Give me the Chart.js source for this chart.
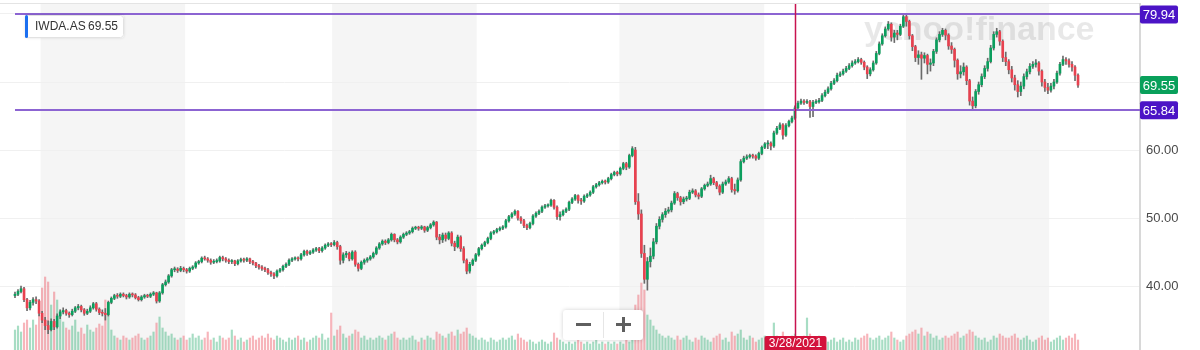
<!DOCTYPE html>
<html>
<head>
<meta charset="utf-8">
<script src="https://cdn.jsdelivr.net/npm/chart.js@4.4.0/dist/chart.umd.min.js"></script>
<style>
  html, body { margin: 0; padding: 0; background: #fff; }
  #wrap { width: 1200px; height: 350px; }
</style>
</head>
<body>
<div id="wrap"><canvas id="graph" width="1200" height="350"></canvas></div>
<script>
// weekly candles of IWDA.AS (one entry per week)
var symbol = "IWDA.AS";
var lastPrice = 69.55;
var highPrice = 79.94;
var lowPrice = 65.84;
var crossWeek = 259;
var crossLabel = "3/28/2021";
// week index where each calendar year starts (2016 ... 2023), shaded every other year
var yearStarts = [8.5, 56.5, 105.3, 153.3, 200.7, 248.8, 295.9, 343.4];

var opens = [
  38.6, 38.8, 39.2, 39.6, 38.0, 36.8, 37.6, 38.0, 37.8, 36.0,
  35.0, 34.2, 33.6, 34.8, 34.0, 35.6, 36.2, 36.4, 36.0, 35.8,
  36.3, 36.8, 37.0, 36.5, 36.0, 36.3, 36.8, 37.4, 36.6, 36.1,
  36.0, 35.8, 37.6, 38.2, 38.6, 38.5, 38.8, 38.6, 38.4, 38.8,
  38.7, 38.3, 38.0, 38.4, 38.6, 38.5, 38.8, 39.0, 37.8, 39.0,
  40.2, 40.6, 41.5, 42.4, 42.5, 42.3, 42.6, 42.4, 42.2, 42.6,
  42.8, 43.4, 43.6, 44.1, 44.0, 43.8, 43.5, 43.6, 43.7, 44.2,
  44.0, 43.8, 43.6, 43.7, 43.3, 43.7, 43.9, 43.8, 44.0, 43.6,
  43.4, 43.0, 42.8, 42.6, 42.4, 42.0, 41.8, 41.5, 42.2, 42.4,
  42.9, 43.2, 43.8, 44.0, 44.1, 44.0, 44.6, 45.1, 44.8, 45.0,
  45.3, 45.5, 45.2, 45.6, 46.0, 46.2, 46.1, 46.4, 45.8, 43.8,
  44.6, 44.8, 44.0, 45.0, 43.2, 42.6, 43.5, 43.8, 44.0, 44.3,
  44.8, 45.6, 46.2, 46.6, 46.4, 46.8, 47.6, 46.8, 46.5, 47.2,
  47.6, 47.8, 48.0, 48.5, 48.6, 48.5, 48.7, 48.2, 48.6, 49.0,
  49.4, 47.2, 46.8, 47.5, 47.0, 47.8, 46.3, 45.8, 47.2, 45.5,
  43.8, 42.2, 43.2, 43.8, 44.6, 45.5, 46.0, 46.4, 47.0, 47.8,
  48.0, 48.3, 48.5, 48.7, 49.6, 50.2, 50.6, 51.0, 50.0, 49.6,
  48.9, 48.6, 49.2, 50.3, 50.7, 51.0, 51.6, 51.8, 51.9, 52.6,
  51.6, 50.2, 50.5, 51.0, 51.3, 52.3, 52.8, 53.3, 52.6, 52.5,
  53.2, 53.4, 53.8, 54.6, 54.9, 55.2, 55.4, 55.3, 55.8, 56.4,
  56.7, 56.5, 57.3, 58.0, 57.5, 59.2, 60.0, 52.4, 50.6, 44.8,
  41.0, 43.6, 44.4, 46.5, 48.8, 49.8, 50.5, 51.0, 51.2, 52.2,
  53.6, 53.0, 52.4, 52.8, 52.9, 53.8, 54.0, 53.4, 53.2, 54.3,
  54.8, 55.0, 55.8, 55.2, 54.7, 53.8, 55.0, 55.3, 55.8, 54.2,
  54.0, 55.6, 58.3, 58.8, 59.0, 59.2, 59.1, 58.8, 59.5, 60.4,
  60.9, 61.0, 60.6, 62.5, 63.2, 63.7, 62.2, 63.6, 64.2, 64.7,
  66.2, 66.9, 67.2, 67.0, 67.1, 66.4, 67.0, 67.1, 67.3, 68.0,
  68.5, 69.0, 69.8, 70.2, 71.0, 71.2, 71.6, 72.0, 72.4, 72.8,
  73.0, 73.3, 72.9, 72.2, 71.2, 71.8, 72.8, 74.2, 75.6, 76.8,
  77.8, 78.5, 76.6, 77.2, 77.0, 78.2, 79.6, 78.9, 76.8, 75.2,
  73.6, 74.0, 73.5, 73.9, 72.6, 72.8, 74.5, 76.2, 77.0, 77.6,
  76.9, 75.3, 74.8, 73.2, 71.2, 71.5, 72.2, 70.2, 67.2, 66.5,
  68.6, 69.6, 70.8, 72.0, 73.0, 75.0, 77.0, 77.4, 76.0, 73.6,
  73.0, 71.8, 70.6, 69.6, 68.6, 69.4, 70.8, 71.5, 72.3, 72.6,
  72.8, 71.6, 70.0, 69.2, 68.8, 69.4, 70.0, 71.3, 72.6, 73.3,
  73.1, 72.6, 72.2, 71.0
];
var closes = [
  38.8, 39.2, 39.6, 38.0, 36.8, 37.6, 38.0, 37.8, 36.0, 35.0,
  34.2, 33.6, 34.8, 34.0, 35.6, 36.2, 36.4, 36.0, 35.8, 36.3,
  36.8, 37.0, 36.5, 36.0, 36.3, 36.8, 37.4, 36.6, 36.1, 36.0,
  35.8, 37.6, 38.2, 38.6, 38.5, 38.8, 38.6, 38.4, 38.8, 38.7,
  38.3, 38.0, 38.4, 38.6, 38.5, 38.8, 39.0, 37.8, 39.0, 40.2,
  40.6, 41.5, 42.4, 42.5, 42.3, 42.6, 42.4, 42.2, 42.6, 42.8,
  43.4, 43.6, 44.1, 44.0, 43.8, 43.5, 43.6, 43.7, 44.2, 44.0,
  43.8, 43.6, 43.7, 43.3, 43.7, 43.9, 43.8, 44.0, 43.6, 43.4,
  43.0, 42.8, 42.6, 42.4, 42.0, 41.8, 41.5, 42.2, 42.4, 42.9,
  43.2, 43.8, 44.0, 44.1, 44.0, 44.6, 45.1, 44.8, 45.0, 45.3,
  45.5, 45.2, 45.6, 46.0, 46.2, 46.1, 46.4, 45.8, 43.8, 44.6,
  44.8, 44.0, 45.0, 43.2, 42.6, 43.5, 43.8, 44.0, 44.3, 44.8,
  45.6, 46.2, 46.6, 46.4, 46.8, 47.6, 46.8, 46.5, 47.2, 47.6,
  47.8, 48.0, 48.5, 48.6, 48.5, 48.7, 48.2, 48.6, 49.0, 49.4,
  47.2, 46.8, 47.5, 47.0, 47.8, 46.3, 45.8, 47.2, 45.5, 43.8,
  42.2, 43.2, 43.8, 44.6, 45.5, 46.0, 46.4, 47.0, 47.8, 48.0,
  48.3, 48.5, 48.7, 49.6, 50.2, 50.6, 51.0, 50.0, 49.6, 48.9,
  48.6, 49.2, 50.3, 50.7, 51.0, 51.6, 51.8, 51.9, 52.6, 51.6,
  50.2, 50.5, 51.0, 51.3, 52.3, 52.8, 53.3, 52.6, 52.5, 53.2,
  53.4, 53.8, 54.6, 54.9, 55.2, 55.4, 55.3, 55.8, 56.4, 56.7,
  56.5, 57.3, 58.0, 57.5, 59.2, 60.2, 52.4, 50.6, 44.8, 41.0,
  43.6, 44.4, 46.5, 48.8, 49.8, 50.5, 51.0, 51.2, 52.2, 53.6,
  53.0, 52.4, 52.8, 52.9, 53.8, 54.0, 53.4, 53.2, 54.3, 54.8,
  55.0, 55.8, 55.2, 54.7, 53.8, 55.0, 55.3, 55.8, 54.2, 54.0,
  55.6, 58.3, 58.8, 59.0, 59.2, 59.1, 58.8, 59.5, 60.4, 60.9,
  61.0, 60.6, 62.5, 63.2, 63.7, 62.2, 63.6, 64.2, 64.7, 66.2,
  66.9, 67.2, 67.0, 67.1, 66.4, 67.0, 67.1, 67.3, 68.0, 68.5,
  69.0, 69.8, 70.2, 71.0, 71.2, 71.6, 72.0, 72.4, 72.8, 73.0,
  73.3, 72.9, 72.2, 71.2, 71.8, 72.8, 74.2, 75.6, 76.8, 77.8,
  78.5, 76.6, 77.2, 77.0, 78.2, 79.6, 78.9, 76.8, 75.2, 73.6,
  74.0, 73.5, 73.9, 72.6, 72.8, 74.5, 76.2, 77.0, 77.6, 76.9,
  75.3, 74.8, 73.2, 71.2, 71.5, 72.2, 70.2, 67.2, 66.5, 68.6,
  69.6, 70.8, 72.0, 73.0, 75.0, 77.0, 77.4, 76.0, 73.6, 73.0,
  71.8, 70.6, 69.6, 68.6, 69.4, 70.8, 71.5, 72.3, 72.6, 72.8,
  71.6, 70.0, 69.2, 68.8, 69.4, 70.0, 71.3, 72.6, 73.3, 73.1,
  72.6, 72.2, 71.0, 69.55
];
var highs = [
  39.1, 39.5, 40.0, 39.8, 38.2, 37.9, 38.3, 38.4, 38.0, 36.3,
  35.4, 34.9, 35.2, 35.1, 35.9, 36.5, 36.8, 36.6, 36.2, 36.6,
  37.0, 37.3, 37.2, 36.7, 36.6, 37.1, 37.6, 37.6, 36.8, 36.5,
  36.7, 37.8, 38.4, 38.8, 38.9, 39.0, 39.0, 38.8, 39.0, 39.0,
  38.9, 38.5, 38.6, 38.8, 38.8, 39.0, 39.2, 39.1, 39.2, 40.4,
  40.9, 41.7, 42.6, 42.8, 42.7, 42.9, 42.8, 42.6, 42.8, 43.0,
  43.6, 43.8, 44.3, 44.4, 44.2, 44.0, 43.9, 44.0, 44.4, 44.4,
  44.2, 44.0, 43.9, 43.8, 43.9, 44.1, 44.1, 44.2, 44.1, 43.8,
  43.5, 43.2, 43.0, 42.8, 42.6, 42.2, 42.0, 42.4, 42.6, 43.1,
  43.4, 44.0, 44.2, 44.3, 44.3, 44.8, 45.3, 45.3, 45.2, 45.5,
  45.7, 45.7, 45.8, 46.2, 46.4, 46.4, 46.7, 46.6, 46.0, 44.9,
  45.1, 45.0, 45.2, 45.2, 43.4, 43.7, 44.0, 44.2, 44.5, 45.0,
  45.8, 46.4, 46.8, 46.8, 47.0, 47.8, 47.7, 47.0, 47.4, 47.8,
  48.0, 48.2, 48.7, 48.8, 48.8, 48.9, 48.8, 48.8, 49.2, 49.6,
  49.5, 47.6, 47.8, 47.8, 48.0, 48.0, 46.6, 47.5, 47.4, 45.8,
  44.0, 43.5, 44.0, 44.8, 45.7, 46.2, 46.6, 47.2, 48.0, 48.2,
  48.5, 48.7, 48.9, 49.8, 50.4, 50.8, 51.2, 51.1, 50.2, 49.8,
  49.1, 49.4, 50.5, 50.9, 51.2, 51.8, 52.0, 52.1, 52.8, 52.7,
  51.8, 50.9, 51.2, 51.5, 52.5, 53.0, 53.5, 53.4, 52.9, 53.4,
  53.6, 54.0, 54.8, 55.1, 55.4, 55.6, 55.6, 56.0, 56.6, 56.9,
  56.9, 57.5, 58.2, 58.2, 59.4, 60.5, 60.4, 53.6, 51.2, 46.0,
  44.2, 45.6, 47.0, 49.2, 50.2, 50.8, 51.4, 51.6, 52.5, 53.9,
  53.8, 53.2, 53.1, 53.2, 54.1, 54.3, 54.2, 53.7, 54.5, 55.0,
  55.3, 56.3, 56.0, 55.4, 54.9, 55.3, 55.6, 56.1, 56.0, 55.0,
  55.9, 58.6, 59.1, 59.3, 59.4, 59.4, 59.3, 59.7, 60.6, 61.1,
  61.4, 61.2, 62.8, 63.5, 64.0, 63.9, 63.9, 64.4, 65.0, 66.5,
  67.2, 67.5, 67.4, 67.4, 67.3, 67.3, 67.4, 67.6, 68.3, 68.8,
  69.3, 70.1, 70.5, 71.3, 71.5, 71.9, 72.3, 72.7, 73.1, 73.3,
  73.6, 73.5, 73.1, 72.4, 72.1, 73.1, 74.5, 75.9, 77.1, 78.1,
  78.9, 78.7, 77.6, 77.6, 78.5, 79.94, 79.8, 79.1, 77.0, 75.4,
  74.6, 74.4, 74.3, 74.1, 73.4, 74.8, 76.5, 77.4, 77.9, 77.8,
  77.1, 75.8, 75.0, 73.4, 72.4, 72.8, 72.4, 70.4, 67.8, 68.9,
  70.0, 71.2, 72.4, 73.5, 75.4, 77.4, 77.9, 77.6, 76.2, 74.4,
  73.3, 72.3, 71.0, 70.2, 70.0, 71.2, 71.9, 72.7, 73.0, 73.3,
  73.0, 71.8, 70.4, 69.8, 69.8, 70.4, 71.6, 72.9, 73.8, 73.6,
  73.4, 73.0, 72.4, 71.2
];
var lows = [
  38.3, 38.6, 39.0, 37.7, 36.4, 36.5, 37.2, 37.4, 35.6, 34.6,
  33.6, 33.0, 33.4, 33.6, 33.8, 35.2, 35.9, 35.7, 35.4, 35.6,
  36.1, 36.5, 36.2, 35.7, 35.8, 36.1, 36.6, 36.3, 35.8, 35.6,
  35.0, 35.6, 37.4, 38.0, 38.2, 38.3, 38.4, 38.1, 38.2, 38.4,
  38.1, 37.8, 37.8, 38.2, 38.3, 38.3, 38.6, 37.5, 37.6, 38.8,
  40.0, 40.4, 41.3, 42.1, 42.0, 42.1, 42.1, 41.9, 42.0, 42.4,
  42.6, 43.2, 43.4, 43.8, 43.5, 43.2, 43.3, 43.4, 43.5, 43.7,
  43.5, 43.3, 43.3, 43.0, 43.1, 43.5, 43.5, 43.6, 43.3, 43.1,
  42.7, 42.5, 42.3, 42.1, 41.7, 41.4, 41.1, 41.3, 42.0, 42.2,
  42.7, 43.0, 43.6, 43.8, 43.7, 43.8, 44.4, 44.5, 44.6, 44.8,
  45.1, 44.9, 45.0, 45.4, 45.8, 45.8, 45.9, 45.4, 43.2, 43.4,
  44.2, 43.7, 43.8, 42.9, 42.2, 42.4, 43.2, 43.5, 43.8, 44.1,
  44.6, 45.4, 46.0, 46.1, 46.2, 46.6, 46.5, 46.2, 46.3, 47.0,
  47.4, 47.6, 47.8, 48.3, 48.2, 48.3, 47.9, 48.0, 48.4, 48.8,
  46.8, 46.2, 46.4, 46.6, 46.8, 45.9, 45.2, 45.6, 45.1, 43.4,
  41.8, 41.9, 43.0, 43.6, 44.4, 45.3, 45.8, 46.2, 46.8, 47.6,
  47.8, 48.1, 48.3, 48.5, 49.4, 50.0, 50.4, 49.7, 49.2, 48.6,
  48.3, 48.4, 49.0, 50.1, 50.5, 50.8, 51.4, 51.6, 51.7, 51.3,
  49.8, 49.7, 50.3, 50.8, 51.1, 52.1, 52.6, 52.2, 52.0, 52.3,
  53.0, 53.2, 53.6, 54.4, 54.7, 55.0, 55.0, 55.1, 55.6, 56.2,
  56.2, 56.3, 57.1, 57.1, 57.3, 59.0, 52.0, 49.8, 44.2, 40.4,
  39.4, 42.8, 44.0, 46.2, 48.4, 49.4, 50.1, 50.7, 50.9, 52.0,
  52.6, 51.9, 52.1, 52.5, 52.7, 53.6, 53.1, 52.8, 53.0, 54.1,
  54.6, 54.8, 54.9, 54.3, 53.4, 53.6, 54.8, 55.1, 53.8, 53.5,
  53.8, 55.4, 58.1, 58.6, 58.8, 58.8, 58.5, 58.6, 59.3, 60.2,
  60.2, 60.0, 60.4, 62.3, 63.0, 61.6, 62.0, 63.4, 64.0, 64.5,
  66.0, 66.7, 66.7, 66.8, 64.8, 64.9, 66.8, 66.9, 67.1, 67.8,
  68.3, 68.8, 69.6, 70.0, 70.8, 71.0, 71.4, 71.8, 72.2, 72.6,
  72.8, 72.6, 71.8, 70.5, 70.9, 71.6, 72.6, 74.0, 75.4, 76.6,
  77.6, 76.0, 75.8, 76.2, 76.8, 78.0, 78.2, 76.3, 74.6, 73.0,
  72.6, 70.4, 72.8, 71.2, 71.6, 72.4, 74.2, 75.9, 76.7, 76.2,
  74.8, 74.2, 72.2, 70.4, 70.6, 71.0, 69.6, 66.6, 65.84, 66.2,
  68.2, 69.3, 70.5, 71.6, 72.8, 74.7, 76.6, 75.4, 73.0, 72.4,
  71.2, 70.0, 68.8, 67.8, 68.0, 69.0, 70.4, 71.2, 72.0, 72.2,
  71.0, 69.4, 68.6, 68.3, 68.5, 69.0, 69.8, 71.0, 72.4, 72.6,
  72.2, 71.6, 70.2, 69.2
];
// relative weekly volume (unitless, as drawn)
var volumes = [
  20, 24, 18, 27, 30, 22, 30, 25, 35, 62,
  73, 68, 45, 58, 50, 40, 28, 22, 20, 24,
  30, 18, 22, 16, 25, 20, 18, 22, 26, 24,
  50, 35, 20, 14, 12, 10, 14, 12, 10, 12,
  14, 16, 12, 10, 12, 14, 18, 27, 33, 22,
  18, 14, 16, 12, 10, 12, 14, 10, 12, 16,
  12, 14, 10, 12, 18, 10, 12, 8, 14, 12,
  10, 12, 20, 14, 10, 12, 8, 10, 12, 14,
  10, 12, 14, 12, 16, 12, 10, 14, 12, 10,
  8, 12, 10, 12, 14, 10, 12, 8, 10, 12,
  14, 12, 16, 10, 12, 37, 14, 20, 24, 16,
  12, 14, 16, 20, 18, 12, 14, 10, 12, 10,
  12, 14, 12, 10, 14, 16, 18, 12, 10, 12,
  10, 12, 14, 10, 8, 12, 10, 14, 12, 10,
  18, 16, 14, 12, 16, 18, 14, 20, 16, 18,
  22, 16, 14, 12, 10, 12, 10, 8, 12, 10,
  8, 10, 12, 10, 12, 14, 10, 16, 12, 10,
  8, 10, 8, 6, 8, 10, 8, 6, 8, 17,
  12, 10, 8, 6, 8, 6, 8, 10, 8, 6,
  8, 6, 8, 10, 6, 8, 6, 8, 6, 8,
  6, 8, 6, 10, 8, 12, 45, 55, 67, 60,
  35, 30, 24, 20, 16, 14, 12, 14, 12, 10,
  14, 10, 12, 14, 10, 8, 12, 10, 14, 12,
  10, 8, 12, 14, 16, 10, 12, 8, 18, 14,
  16, 20, 12, 10, 14, 12, 8, 10, 12, 14,
  12, 10, 27, 14, 12, 18, 10, 12, 14, 16,
  12, 10, 14, 32, 16, 12, 10, 14, 12, 10,
  8, 10, 12, 8, 10, 12, 8, 10, 8, 12,
  10, 12, 14, 16, 12, 10, 12, 14, 10, 12,
  14, 18, 12, 10, 8, 10, 14, 16, 18, 20,
  16, 22, 14, 18, 16, 12, 14, 10, 12, 14,
  12, 14, 16, 18, 12, 14, 16, 20, 18, 14,
  12, 10, 12, 8, 10, 14, 12, 16, 14, 12,
  12, 14, 16, 12, 10, 12, 14, 10, 8, 10,
  12, 14, 10, 12, 8, 10, 12, 14, 10, 12,
  14, 12, 16, 10
];

var FONT = "'Liberation Sans', Arial, sans-serif";
var UP = "#0b9e5d", DOWN = "#e8414f";

function isUp(i) { return closes[i] >= opens[i]; }

function roundRect(ctx, x, y, w, h, r) {
    ctx.beginPath();
    ctx.moveTo(x + r, y);
    ctx.arcTo(x + w, y, x + w, y + h, r);
    ctx.arcTo(x + w, y + h, x, y + h, r);
    ctx.arcTo(x, y + h, x, y, r);
    ctx.arcTo(x, y, x + w, y, r);
    ctx.closePath();
}

function priceTag(ctx, yScale, left, value, color) {
    var py = yScale.getPixelForValue(value);
    ctx.fillStyle = color;
    roundRect(ctx, left, py - 9, 38, 18, 2);
    ctx.fill();
    ctx.fillStyle = "#fff";
    ctx.font = "13px " + FONT;
    ctx.textAlign = "center";
    ctx.textBaseline = "middle";
    ctx.fillText(value.toFixed(2), left + 19, py + 1);
}

// year bands, watermark, marker lines, tags, legend box and zoom buttons
var overlay = {
    id: "overlay",
    beforeDraw: function (chart) {
        var ctx = chart.ctx, a = chart.chartArea, xs = chart.scales.x;
        ctx.save();
        ctx.fillStyle = "#f5f5f5";
        for (var k = 0; k + 1 < yearStarts.length; k += 2) {
            var x0 = xs.getPixelForValue(yearStarts[k]);
            var x1 = xs.getPixelForValue(yearStarts[k + 1]);
            ctx.fillRect(x0, a.top, x1 - x0, a.bottom - a.top);
        }
        ctx.fillStyle = "#e4e4e4";
        ctx.fillRect(0, a.top - 1, a.right, 1);
        ctx.restore();
    },
    beforeDatasetsDraw: function (chart) {
        var ctx = chart.ctx;
        ctx.save();
        ctx.font = "bold 34px " + FONT;
        ctx.fillStyle = "rgba(0,0,0,0.09)";
        ctx.textAlign = "left";
        ctx.textBaseline = "alphabetic";
        ctx.fillText("yahoo!finance", 864, 40);
        ctx.restore();
    },
    afterDatasetsDraw: function (chart) {
        var ctx = chart.ctx, a = chart.chartArea;
        var xs = chart.scales.x, ys = chart.scales.y;
        ctx.save();

        // high / low lines
        var xStart = xs.getPixelForValue(0);
        ctx.strokeStyle = "#8c64d2";
        ctx.lineWidth = 2;
        [highPrice, lowPrice].forEach(function (p) {
            var py = Math.round(ys.getPixelForValue(p));
            ctx.beginPath();
            ctx.moveTo(xStart, py);
            ctx.lineTo(a.right, py);
            ctx.stroke();
        });

        // crosshair
        var cx = Math.round(xs.getPixelForValue(crossWeek)) + 0.5;
        ctx.strokeStyle = "#c8134f";
        ctx.lineWidth = 1.5;
        ctx.beginPath();
        ctx.moveTo(cx, a.top);
        ctx.lineTo(cx, a.bottom - 13);
        ctx.stroke();

        ctx.fillStyle = "#d3133c";
        roundRect(ctx, cx - 31, a.bottom - 14, 62, 16, 2);
        ctx.fill();
        ctx.fillStyle = "#fff";
        ctx.font = "12px " + FONT;
        ctx.textAlign = "center";
        ctx.textBaseline = "middle";
        ctx.fillText(crossLabel, cx, a.bottom - 6);

        // price tags on the axis
        priceTag(ctx, ys, a.right, highPrice, "#4b14c6");
        priceTag(ctx, ys, a.right, lastPrice, "#09a05b");
        priceTag(ctx, ys, a.right, lowPrice, "#4b14c6");

        // legend box
        ctx.shadowColor = "rgba(0,0,0,0.12)";
        ctx.shadowBlur = 3;
        ctx.fillStyle = "#fff";
        roundRect(ctx, 25, 15, 99, 23, 3);
        ctx.fill();
        ctx.shadowBlur = 0;
        ctx.strokeStyle = "#e2e2e2";
        ctx.lineWidth = 1;
        roundRect(ctx, 25.5, 15.5, 98, 22, 3);
        ctx.stroke();
        ctx.fillStyle = "#1b6ff0";
        roundRect(ctx, 25, 15, 3, 23, 1.5);
        ctx.fill();
        ctx.fillStyle = "#333";
        ctx.font = "12px " + FONT;
        ctx.textAlign = "left";
        ctx.textBaseline = "middle";
        ctx.fillText(symbol, 35, 27);
        ctx.fillText(lastPrice.toFixed(2), 88, 27);

        // zoom buttons
        ctx.shadowColor = "rgba(0,0,0,0.18)";
        ctx.shadowBlur = 4;
        ctx.fillStyle = "#fff";
        roundRect(ctx, 563, 310, 80, 30, 3);
        ctx.fill();
        ctx.shadowBlur = 0;
        ctx.fillStyle = "#e6e6e6";
        ctx.fillRect(603, 312, 1, 26);
        ctx.fillStyle = "#5f5f5f";
        ctx.fillRect(576, 323, 15, 3);
        ctx.fillRect(616, 323, 15, 3);
        ctx.fillRect(622, 317, 3, 15);

        ctx.restore();
    }
};

function candlegraph() {
    var idx = closes.map(function (c, i) { return i; });
    var ctx = document.getElementById("graph").getContext("2d");
    Chart.defaults.font.family = FONT;

    new Chart(ctx, {
        type: "bar",
        data: {
            datasets: [
                {
                    label: "Volume",
                    yAxisID: "yv",
                    order: 3,
                    grouped: false,
                    barThickness: 1.5,
                    data: idx.map(function (i) { return { x: i, y: volumes[i] }; }),
                    backgroundColor: function (c) {
                        return isUp(c.dataIndex) ? "rgba(12,160,92,0.36)" : "rgba(236,70,86,0.4)";
                    }
                },
                {
                    label: "Range",
                    order: 2,
                    grouped: false,
                    barThickness: 1,
                    data: idx.map(function (i) { return { x: i, y: [lows[i], highs[i]] }; }),
                    backgroundColor: "#6a6a6a"
                },
                {
                    label: symbol,
                    order: 1,
                    grouped: false,
                    barThickness: 2,
                    minBarLength: 1,
                    data: idx.map(function (i) { return { x: i, y: [opens[i], closes[i]] }; }),
                    backgroundColor: function (c) { return isUp(c.dataIndex) ? UP : DOWN; }
                }
            ]
        },
        options: {
            responsive: false,
            animation: false,
            devicePixelRatio: 1,
            layout: { padding: { top: 4, left: 0, right: 0, bottom: 0 } },
            plugins: { legend: { display: false }, tooltip: { enabled: false } },
            scales: {
                x: {
                    type: "linear",
                    display: false,
                    offset: false,
                    min: -4.98,
                    max: 373.58
                },
                y: {
                    position: "right",
                    min: 30.6,
                    max: 81.47,
                    grid: { color: "#f0f0f0", drawTicks: false },
                    border: { color: "#d8d8d8", width: 2 },
                    ticks: {
                        stepSize: 10,
                        includeBounds: false,
                        padding: 6,
                        color: "#4a4a4a",
                        font: { size: 13 },
                        callback: function (v) { return v.toFixed(2); }
                    },
                    afterFit: function (s) {
                        s.width = 60;
                        s.paddingTop = 0;
                        s.paddingBottom = 0;
                    }
                },
                yv: {
                    display: false,
                    min: 0,
                    max: 346
                }
            }
        },
        plugins: [overlay]
    });
}
candlegraph();
</script>
</body>
</html>
